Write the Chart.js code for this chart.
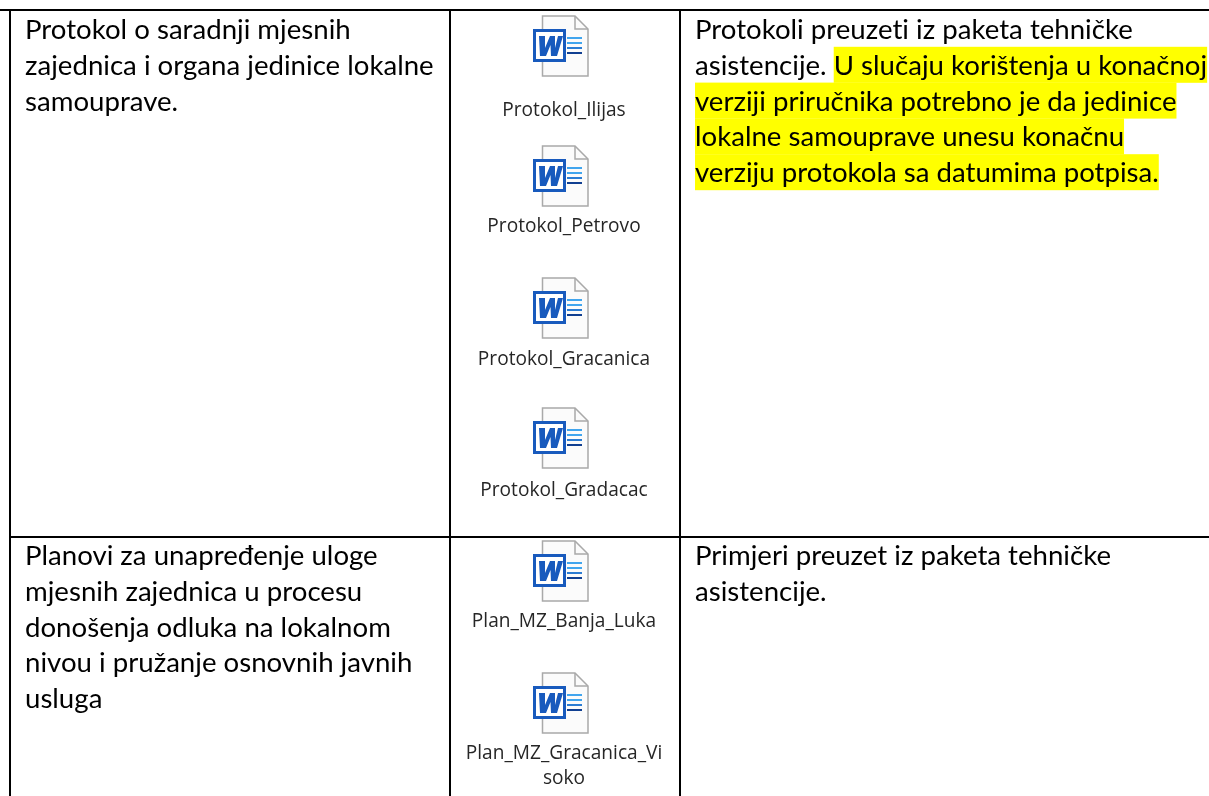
<!DOCTYPE html>
<html lang="bs">
  <head>
    <meta charset="UTF-8" />
    <title>Protokoli i planovi</title>
    <script src="https://cdn.jsdelivr.net/npm/chart.js"></script>
    <style>
      html, body { margin: 0; padding: 0; background: #fff; }
      canvas { display: block; }
    </style>
  </head>
  <body>
    <canvas id="tableChart" width="1209" height="796"></canvas>
    <script>
      // Cell text, one entry per printed line
      const row1Title = [
        "Protokol o saradnji mjesnih",
        "zajednica i organa jedinice lokalne",
        "samouprave.",
      ];
      const row2Title = [
        "Planovi za unapređenje uloge",
        "mjesnih zajednica u procesu",
        "donošenja odluka na lokalnom",
        "nivou i pružanje osnovnih javnih",
        "usluga",
      ];
      const row1Note = [
        ["Protokoli preuzeti iz paketa tehničke", ""],
        ["asistencije. ", "U slučaju korištenja u konačnoj"],
        ["", "verziji priručnika potrebno je da jedinice"],
        ["", "lokalne samouprave unesu konačnu"],
        ["", "verziju protokola sa datumima potpisa."],
      ];
      const row2Note = ["Primjeri preuzet iz paketa tehničke", "asistencije."];
      const fileLabels = [
        ["Protokol_Ilijas"],
        ["Protokol_Petrovo"],
        ["Protokol_Gracanica"],
        ["Protokol_Gradacac"],
        ["Plan_MZ_Banja_Luka"],
        ["Plan_MZ_Gracanica_Vi", "soko"],
      ];

      // Where things sit, in the pixel-sized scales of the chart
      const columnRules = [10, 450, 680];
      const rowRules = [10, 537];
      const iconX = 561;
      const iconY = [46, 176, 308, 438, 571, 703];
      const labelY = [111, 227, 360, 491, 622, 754];
      const row1TextY = 30;
      const row2TextY = 556;
      const lineStep = 35.8;
      const bodyFont = "27.6px Lato, sans-serif";
      const labelFont = "19.1px 'Open Sans', sans-serif";

      function makeWordIcon() {
        const c = document.createElement("canvas");
        c.width = 56;
        c.height = 62;
        const g = c.getContext("2d");
        // sheet with folded corner
        g.fillStyle = "#fbfbfb";
        g.strokeStyle = "#a9a9a9";
        g.lineWidth = 1.5;
        g.beginPath();
        g.moveTo(9.5, 1);
        g.lineTo(42, 1);
        g.lineTo(55, 14);
        g.lineTo(55, 61);
        g.lineTo(9.5, 61);
        g.closePath();
        g.fill();
        g.stroke();
        g.beginPath();
        g.moveTo(42, 1);
        g.lineTo(42, 14);
        g.lineTo(55, 14);
        g.stroke();
        // text lines on the sheet
        const lineCol = ["#41a5ee", "#41a5ee", "#2b7cd3", "#103f91"];
        lineCol.forEach((col, i) => {
          g.fillStyle = col;
          g.fillRect(34, 22 + i * 5, 15, 2);
        });
        // blue box with the W
        g.fillStyle = "#ffffff";
        g.fillRect(0, 14, 33, 33);
        g.strokeStyle = "#185abd";
        g.lineWidth = 3;
        g.strokeRect(1.5, 15.5, 30, 30);
        g.fillStyle = "#185abd";
        g.beginPath();
        g.moveTo(6, 21);
        g.lineTo(12, 21);
        g.lineTo(12, 33);
        g.lineTo(17, 21);
        g.lineTo(22, 21);
        g.lineTo(22, 33);
        g.lineTo(25, 21);
        g.lineTo(30, 21);
        g.lineTo(24, 41);
        g.lineTo(18, 41);
        g.lineTo(17.5, 30);
        g.lineTo(13, 41);
        g.lineTo(7, 41);
        g.closePath();
        g.fill();
        return c;
      }

      function ruleLine(points) {
        return {
          data: points,
          showLine: true,
          borderColor: "#000",
          borderWidth: 2,
          pointRadius: 0,
          order: 1,
        };
      }

      const rules = [
        ruleLine([{ x: 0, y: rowRules[0] }, { x: 1209, y: rowRules[0] }]),
        ruleLine([{ x: columnRules[0], y: rowRules[1] }, { x: 1209, y: rowRules[1] }]),
      ];
      columnRules.forEach((x) => {
        rules.push(ruleLine([{ x: x, y: rowRules[0] }, { x: x, y: 796 }]));
      });

      const cellText = {
        id: "cellText",
        afterDatasetsDraw(chart) {
          const { ctx, scales } = chart;
          const X = (v) => scales.x.getPixelForValue(v);
          const Y = (v) => scales.y.getPixelForValue(v);
          ctx.save();
          ctx.textBaseline = "middle";
          ctx.fillStyle = "#000";
          ctx.font = bodyFont;
          ctx.letterSpacing = "0.01px"; // no ti ligature, the reference has none

          row1Title.forEach((t, i) => ctx.fillText(t, X(25), Y(row1TextY + i * lineStep)));
          row2Title.forEach((t, i) => ctx.fillText(t, X(25), Y(row2TextY + i * lineStep)));
          row2Note.forEach((t, i) => ctx.fillText(t, X(695), Y(row2TextY + i * lineStep)));

          // note with the yellow marker
          row1Note.forEach(([plain, marked], i) => {
            const y = row1TextY + i * lineStep;
            let x = 695;
            if (plain) {
              ctx.fillStyle = "#000";
              ctx.fillText(plain, X(x), Y(y));
              x += ctx.measureText(plain).width;
            }
            if (marked) {
              ctx.fillStyle = "#ffff00";
              ctx.fillRect(X(x), Y(y - 19), ctx.measureText(marked).width, 36);
              ctx.fillStyle = "#000";
              ctx.fillText(marked, X(x), Y(y));
            }
          });

          ctx.font = labelFont;
          ctx.textAlign = "center";
          ctx.fillStyle = "#262626";
          fileLabels.forEach((lines, i) => {
            lines.forEach((t, j) => ctx.fillText(t, X(iconX + 3), Y(labelY[i] + j * 25)));
          });
          ctx.restore();
        },
      };

      new Chart(document.getElementById("tableChart"), {
        type: "scatter",
        data: {
          datasets: [
            {
              data: iconY.map((y) => ({ x: iconX, y: y })),
              pointStyle: makeWordIcon(),
              order: 0,
            },
            ...rules,
          ],
        },
        options: {
          responsive: false,
          animation: false,
          layout: { padding: 0, autoPadding: false },
          plugins: { legend: { display: false }, tooltip: { enabled: false } },
          scales: {
            x: { type: "linear", display: false, min: 0, max: 1209 },
            y: { type: "linear", display: false, min: 0, max: 796, reverse: true },
          },
        },
        plugins: [cellText],
      });
    </script>
  </body>
</html>
